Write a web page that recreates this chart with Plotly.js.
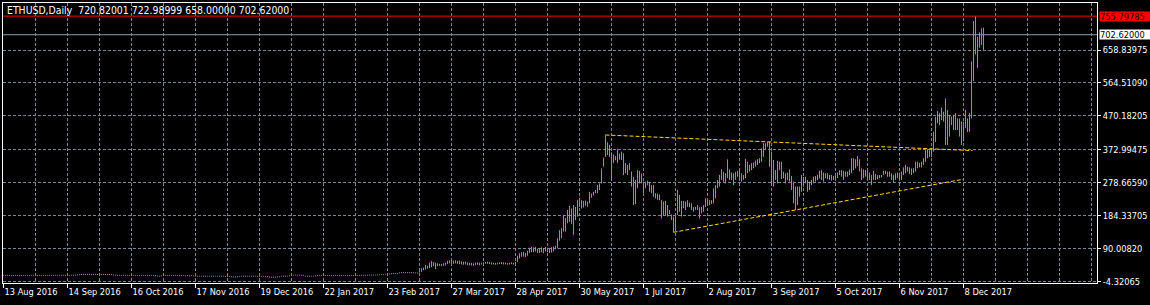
<!DOCTYPE html>
<html><head><meta charset="utf-8">
<script src="https://cdn.plot.ly/plotly-3.0.1.min.js"></script>
<style>html,body{margin:0;padding:0;background:#000;}#chart{width:1150px;height:305px;}</style>
</head><body><div id="chart"></div>
<script>
// ---- chart texts ----
const symbolTitle = "ETHUSD,Daily\u00a0\u00a0720.82001 722.98999 658.00000 702.62000";
const dateLabels = ["13 Aug 2016","14 Sep 2016","16 Oct 2016","17 Nov 2016","19 Dec 2016","22 Jan 2017","23 Feb 2017","27 Mar 2017","28 Apr 2017","30 May 2017","1 Jul 2017","2 Aug 2017","3 Sep 2017","5 Oct 2017","6 Nov 2017","8 Dec 2017"];
const barsPerDateLabel = 32;
const priceLabels = ["658.83975","564.51090","470.18205","372.99475","278.66590","184.33705","90.00820","-4.32065"];
const redLevel = 755.79785, redLevelText = "755.79785";
const bidLevel = 702.62, bidLevelText = "702.62000";

// ---- daily bars (bar index 0 = 13 Aug 2016) ----
const high = [
15.1,14.9,15.0,14.8,14.7,14.9,15.0,14.8,14.6,14.8,
14.9,15.1,15.0,14.8,14.9,15.2,15.0,14.9,15.1,15.0,
14.9,15.0,15.2,15.1,14.9,15.0,15.1,15.3,15.2,15.0,
15.1,15.2,15.0,15.3,15.4,15.2,15.6,16.0,
17.2,17.6,17.8,17.5,17.9,18.0,17.7,17.4,17.8,17.6,
17.3,17.7,17.9,17.5,17.2,17.6,17.0,16.2,
15.2,15.0,15.1,14.9,15.0,15.2,15.1,14.9,15.0,15.1,
15.0,14.9,15.1,15.0,14.8,14.9,15.0,14.7,14.8,14.6,14.4,
13.2,12.8,13.6,
15.0,14.9,15.1,15.0,14.8,14.9,15.0,14.8,14.7,14.5,
14.2,13.8,14.5,13.6,14.0,13.4,13.0,
12.6,12.5,12.7,12.4,12.6,12.5,12.3,12.6,12.5,12.4,
12.5,12.6,12.4,12.3,12.2,12.0,11.8,
11.2,10.8,10.6,11.4,
12.4,12.6,12.5,12.4,12.6,12.5,12.3,12.5,12.6,12.4,
12.3,12.2,12.4,12.0,11.6,
10.3,10.0,9.8,10.1,10.4,11.0,
12.4,12.6,12.5,12.8,13.6,
15.4,15.6,15.8,15.5,15.6,15.3,14.6,
12.6,12.5,12.4,12.6,12.8,13.4,
15.2,15.4,15.1,14.9,
14.6,14.5,14.7,14.6,14.4,14.5,14.7,14.6,14.5,14.8,
14.7,14.9,14.8,14.6,14.8,15.0,14.9,15.1,15.0,15.2,
15.3,15.4,15.6,15.8,16.0,15.9,16.2,16.6,17.0,17.5,18.2,
18.6,19.2,19.8,20.4,20.0,20.6,
22.4,22.8,23.2,22.6,22.9,23.4,22.8,22.5,22.0,21.8,
26,34,36,43.5,41,
50,55,52,50,
48,47,46,48,50,
55,57,58,56,57,55,56,54,
52,53,51,50,49,48,50,51,50,
50,51,52,53,52,51,50,49,50,51,52,51,50,49,50,51,50,52,
70,77,
80,81,78,84,
92,96,94,95,90,
90,94,92,95,93,90,94,96,
98,
120,143,149,186,178,201,213,205,215,210,
229,234,229,227,228,225,253,248,253,258,
272,277,320,351,415,395,387,366,360,355,
375,362,368,363,335,330,335,311,296,287,
315,313,305,282,282,285,280,272,272,249,
247,245,229,225,227,215,201,188,182,187,
258,244,227,227,225,229,222,220,209,210,
215,209,210,215,234,230,229,229,263,272,
287,301,317,310,306,346,317,308,306,310,
313,315,306,301,347,339,330,335,337,342,
346,349,377,392,392,396,396,368,344,315,
341,339,339,311,306,308,317,298,282,268,
268,268,301,296,296,287,282,287,296,298,
301,313,315,308,306,306,301,301,298,301,
308,315,315,313,311,311,317,349,349,346,
355,346,320,317,315,315,308,301,313,304,
301,301,301,313,313,311,311,306,301,306,
308,308,311,323,330,325,323,320,320,339,
339,336,339,349,372,375,372,377,425,468,
484,478,494,482,520,487,473,468,473,478,
463,463,454,454,487,463,478,626,742,755.8,
697,709.5,721,722.99
];
const low = [
12.7,12.5,12.6,12.4,12.3,12.5,12.6,12.4,12.2,12.4,
12.5,12.7,12.6,12.4,12.5,12.8,12.6,12.5,12.7,12.6,
12.5,12.6,12.8,12.7,12.5,12.6,12.7,12.9,12.8,12.6,
12.7,12.8,12.6,12.9,13.0,12.8,13.2,13.6,
14.4,14.8,15.0,14.7,15.1,15.2,14.9,14.6,15.0,14.8,
14.5,14.9,15.1,14.7,14.4,14.8,14.2,13.6,
12.8,12.6,12.7,12.5,12.6,12.8,12.7,12.5,12.6,12.7,
12.6,12.5,12.7,12.6,12.4,12.5,12.6,12.3,12.4,12.2,12.0,
10.6,10.2,11.0,
12.6,12.5,12.7,12.6,12.4,12.5,12.6,12.4,12.3,12.1,
11.8,11.2,12.0,11.0,11.5,10.9,10.5,
10.2,10.1,10.3,10.0,10.2,10.1,9.9,10.2,10.1,10.0,
10.1,10.2,10.0,9.9,9.8,9.6,9.4,
8.4,8.0,7.8,8.8,
10.0,10.2,10.1,10.0,10.2,10.1,9.9,10.1,10.2,10.0,
9.9,9.8,10.0,9.6,9.2,
7.5,7.2,7.0,7.4,7.7,8.3,
10.0,10.2,10.1,10.4,11.2,
13.0,13.2,13.4,13.1,13.2,12.9,12.2,
10.2,10.1,10.0,10.2,10.4,11.0,
12.8,13.0,12.7,12.5,
12.2,12.1,12.3,12.2,12.0,12.1,12.3,12.2,12.1,12.4,
12.3,12.5,12.4,12.2,12.4,12.6,12.5,12.7,12.6,12.8,
12.9,13.0,13.2,13.4,13.6,13.5,13.8,14.2,14.6,15.1,15.8,
15.8,16.4,17.0,17.6,17.2,17.8,
19.6,20.0,20.4,19.8,20.1,20.6,20.0,19.7,19.2,19.0,
22,24,29,31,33,
34,37,40,32,
40,41,40,41,42,
46,48,49,47,48,47,46,45,
44,45,43,42,42,41,43,44,43,
45,46,47,47,46,45,45,44,45,46,46,45,45,44,45,46,45,46,
52,62,
67,68,66,70,
78,80,80,82,78,
78,80,77,82,80,78,79,82,
88,
91,113,120,139,139,163,167,160,130,172,
182,210,205,208,213,210,220,236,243,249,
249,258,277,325,353,358,353,287,335,343,
335,345,344,301,306,301,315,268,215,218,
263,277,277,249,263,272,253,249,239,234,
230,229,177,186,186,182,189,172,137,144,
187,196,182,206,201,210,209,201,196,201,
201,177,191,196,210,215,215,218,220,234,
263,268,287,282,277,292,287,287,272,287,
296,287,282,287,292,306,311,315,320,325,
330,335,339,353,373,382,325,272,268,287,
277,315,289,292,277,287,282,258,220,201,
215,239,253,268,277,253,258,272,277,282,
287,291,287,282,292,289,287,285,287,287,
292,301,296,287,296,296,301,306,315,320,
327,311,287,292,296,287,287,272,287,287,
289,292,294,301,304,296,296,287,279,287,
292,287,287,301,306,311,304,301,306,311,
320,323,323,330,339,349,353,353,368,396,
449,444,458,454,387,387,411,444,430,430,
430,411,387,397,435,424,425,463,570,646,
608,665.6,673,658
];
const close = [
13.9,13.7,13.8,13.5,13.6,13.8,13.7,13.4,13.5,13.6,
13.8,13.9,13.6,13.7,14.0,13.9,13.7,13.9,13.8,13.7,
13.8,14.0,13.9,13.7,13.8,13.9,14.1,14.0,13.8,13.9,
14.0,13.9,14.1,14.2,14.0,14.4,14.8,15.1,
16.0,16.3,16.1,16.5,16.6,16.2,16.0,16.4,16.2,16.1,
16.2,16.5,16.1,15.9,16.2,15.7,15.0,14.5,
14.0,13.8,13.9,13.7,14.0,13.9,13.8,13.9,13.8,14.0,
13.8,13.9,13.8,13.6,13.7,13.8,13.5,13.6,13.4,13.2,12.8,
11.6,12.0,12.8,
13.8,13.9,13.8,13.6,13.7,13.8,13.6,13.5,13.3,13.2,
12.8,12.9,12.4,12.6,12.2,11.8,11.5,
11.4,11.3,11.5,11.2,11.4,11.3,11.2,11.4,11.3,11.2,
11.3,11.4,11.2,11.0,10.9,10.7,10.3,
9.4,9.0,9.8,10.6,
11.4,11.3,11.2,11.4,11.3,11.2,11.3,11.4,11.2,11.1,
11.0,11.2,10.8,10.4,10.0,
8.8,8.4,8.6,8.9,9.4,10.2,
11.2,11.4,11.6,12.2,12.9,
14.4,14.6,14.3,14.5,14.2,13.6,13.0,
11.4,11.2,11.5,11.7,12.2,12.8,
14.2,14.0,13.8,13.7,
13.4,13.5,13.6,13.3,13.4,13.6,13.5,13.4,13.6,13.7,
13.6,13.8,13.5,13.7,13.9,13.8,14.0,13.9,14.1,14.2,
14.3,14.5,14.8,15.0,14.9,15.2,15.6,16.0,16.5,17.1,17.6,
17.4,18.2,18.8,19.0,19.4,19.9,
21.2,21.6,21.0,21.5,22.0,21.4,21.0,20.6,20.4,20.8,
24.5,28,33,38,36,
44,46,43,41,
44,43,45,46,47,
52,54,53,52,51,52,50,48,
47,48,46,45,44,46,47,47,46,
48,49,50,50,49,48,47,48,49,50,49,48,47,48,49,48,49,50,
68,72,
76,74,77,82,
90,88,92,86,84,
86,90,88,91,85,88,92,94,
96,
115,128,140,170,165,195,175,190,165,200,
220,222,215,220,218,222,245,242,250,255,
265,270,315,345,390,370,360,350,345,350,
355,350,355,320,325,320,320,290,270,280,
295,300,285,270,275,278,265,260,245,240,
238,232,200,205,210,195,192,178,155,180,
230,215,220,215,220,215,212,205,205,206,
208,200,205,212,225,225,222,225,255,265,
280,295,300,295,300,305,300,295,300,305,
305,300,298,296,320,325,325,330,335,340,
343,345,370,385,385,390,340,300,300,300,
320,325,300,300,295,300,290,270,240,230,
250,255,285,285,285,270,275,280,290,292,
295,305,300,295,300,295,293,292,292,295,
300,310,305,300,305,305,312,340,330,335,
340,320,300,305,305,300,295,290,300,295,
295,296,298,308,310,305,302,295,290,298,
300,300,305,315,320,318,315,310,315,330,
330,330,335,345,365,365,362,370,410,455,
470,460,480,470,450,430,440,455,450,460,
440,430,420,440,470,440,460,600,700,680,
660,690,720.82,702.62
];
const firstOpen = 13.8;

// ---- drawn trend lines (bar index, price) ----
const trendUpperBars = [301, 484.5], trendUpperPrices = [415.6, 371];
const trendLowerBars = [335, 480],   trendLowerPrices = [137, 289];

// ---- styling ----
const FONT = '"DejaVu Sans Condensed","DejaVu Sans",sans-serif';
const GRID = '#778899';
const BARCOL = '#35d435';

const idx = high.map((_, i) => i);
const open = close.map((c, i) => i === 0 ? firstOpen : close[i - 1]);

const traces = [
  {type:'ohlc', x: idx, open, high, low, close, tickwidth: 0,
   increasing:{line:{color:BARCOL, width:1}}, decreasing:{line:{color:BARCOL, width:1}},
   hoverinfo:'skip'},
  {type:'scatter', mode:'lines', x: trendUpperBars, y: trendUpperPrices,
   line:{color:'#ffd700', width:1, dash:'4px,2px'}, hoverinfo:'skip'},
  {type:'scatter', mode:'lines', x: trendLowerBars, y: trendLowerPrices,
   line:{color:'#ffd700', width:1, dash:'4px,2px'}, hoverinfo:'skip'}
];

const tickFont = {family: FONT, size: 9.2, color: '#ffffff'};
const annotations = [
  {xref:'paper', x:1, xanchor:'left', xshift:2, yref:'y', y:redLevel, yanchor:'middle',
   text:redLevelText, showarrow:false, bgcolor:'#ff0000', width:51, height:9, align:'left',
   borderpad:0, font:{family:FONT, size:9.2, color:'#000000'}},
  {xref:'paper', x:1, xanchor:'left', xshift:2, yref:'y', y:bidLevel, yanchor:'middle',
   text:bidLevelText, showarrow:false, bgcolor:'#ffffff', width:51, height:9, align:'left',
   borderpad:0, font:{family:FONT, size:9.2, color:'#000000'}}
];
if (high.length !== low.length || high.length !== close.length || high.length !== 491) {
  annotations.push({xref:'paper', yref:'paper', x:0.5, y:0.5, text:'LEN '+high.length+'/'+low.length+'/'+close.length, showarrow:false, font:{color:'#f0f', size:20}});
}

const layout = {
  width:1150, height:305, paper_bgcolor:'#000000', plot_bgcolor:'#000000',
  margin:{l:3, r:53, t:3, b:22}, showlegend:false,
  title:{text:symbolTitle, xref:'container', yref:'container', x:7/1150, xanchor:'left',
         y:1-10.7/305, yanchor:'middle', font:{family:FONT, size:10.4, color:'#ffffff'}},
  xaxis:{type:'linear', range:[-0.25, 546.75], fixedrange:true,
    tickmode:'array', tickvals: dateLabels.map((_, k) => k * barsPerDateLabel), ticktext: dateLabels,
    ticks:'outside', ticklen:4, tickcolor:'#ffffff', tickwidth:1,
    ticklabelposition:'outside right', tickfont: tickFont,
    showline:true, linecolor:'#ffffff', linewidth:1, mirror:true,
    showgrid:true, gridcolor:GRID, griddash:'3px,2px', gridwidth:1, zeroline:false,
    minor:{tickmode:'linear', tick0:0, dtick:barsPerDateLabel/2, showgrid:true, gridcolor:GRID, griddash:'3px,2px', gridwidth:1, ticks:''},
    rangeslider:{visible:false}},
  yaxis:{side:'right', range:[-8.13, 793.4], fixedrange:true,
    tickmode:'array', tickvals: priceLabels.map(Number), ticktext: priceLabels,
    ticks:'outside', ticklen:3, tickcolor:'#ffffff', tickwidth:1, tickfont: tickFont,
    showline:true, linecolor:'#ffffff', linewidth:1, mirror:true,
    showgrid:true, gridcolor:GRID, griddash:'3px,2px', gridwidth:1, zeroline:false},
  shapes:[
    {type:'line', xref:'paper', x0:0, x1:1, yref:'y', y0:redLevel, y1:redLevel, line:{color:'#ff0000', width:1}},
    {type:'line', xref:'paper', x0:0, x1:1, yref:'y', y0:bidLevel, y1:bidLevel, line:{color:'#8e9aa8', width:1}}
  ],
  annotations
};
Plotly.newPlot('chart', traces, layout, {staticPlot:true, displayModeBar:false});
</script></body></html>
